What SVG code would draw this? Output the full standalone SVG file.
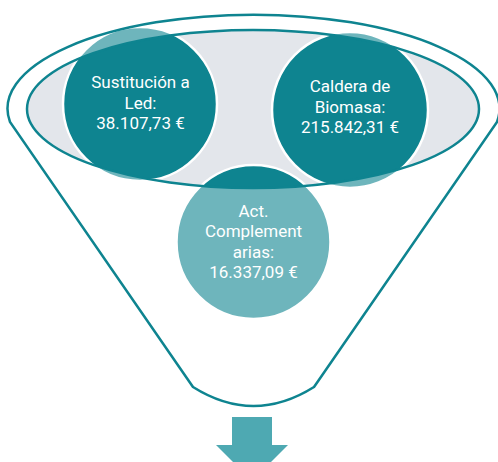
<svg xmlns="http://www.w3.org/2000/svg" width="498" height="462" viewBox="0 0 498 462">
<style>
.node circle{fill:#0E8490;stroke:#FFFFFF;stroke-width:2.5}
.lbl{font-family:Roboto,"Noto Sans",sans-serif;font-size:17px;fill:#FFFFFF;text-anchor:middle}
.tl{fill:none;stroke:#0E8490;stroke-width:2.5}
</style>
<rect width="498" height="462" fill="#FFFFFF"/>
<g id="funnel-inner">
<ellipse cx="253" cy="109" rx="226" ry="79" fill="#E3E6EB"/>
</g>
<g id="node-led" class="node">
<circle cx="140" cy="104" r="77"/>
</g>
<g id="node-biomasa" class="node">
<circle cx="350" cy="110" r="78"/>
</g>
<g id="node-act" class="node">
<circle cx="253.5" cy="242" r="77"/>
</g>
<g id="funnel">
<path d="M10,122 A246,94 0 1 1 497,122 L314,387 Q253.5,425 193,387 Z M27,109 A226,79 0 1 0 479,109 A226,79 0 1 0 27,109 Z" fill="#FFFFFF" fill-opacity="0.4" fill-rule="evenodd" stroke="none"/>
<path class="tl" d="M10,122 A246,94 0 1 1 497,122 L314,387 Q253.5,425 193,387 Z"/>
<ellipse class="tl" cx="253" cy="109" rx="226" ry="79"/>
</g>
<g id="labels">
<text class="lbl" x="140.5" y="88">Sustitución a</text>
<text class="lbl" x="140.5" y="108.5">Led:</text>
<text class="lbl" x="140.5" y="129">38.107,73 €</text>
<text class="lbl" x="350" y="92">Caldera de</text>
<text class="lbl" x="350" y="112.5">Biomasa:</text>
<text class="lbl" x="350" y="133">215.842,31 €</text>
<text class="lbl" x="253.5" y="216.5">Act.</text>
<text class="lbl" x="253.5" y="237">Complement</text>
<text class="lbl" x="253.5" y="257.5">arias:</text>
<text class="lbl" x="253.5" y="278">16.337,09 €</text>
</g>
<g id="connectors">
<polygon points="232,417 272,417 272,445 288,445 252,481 216,445 232,445" fill="#4EA9B2"/>
</g>
</svg>
